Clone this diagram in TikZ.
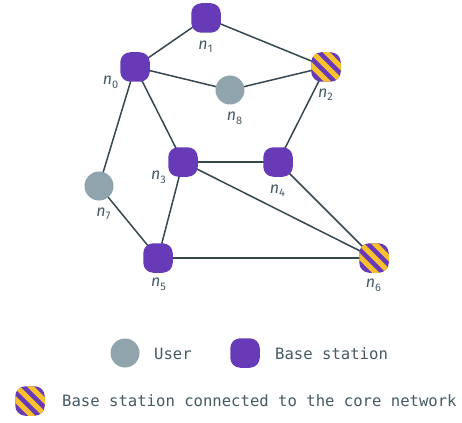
\documentclass[tikz,border=0pt]{standalone}
\usepackage{fontspec}
\usetikzlibrary{backgrounds}
\setmainfont{Fira Sans}
\newfontfamily\legendfont{DejaVu Sans Mono}
\definecolor{bspurple}{HTML}{673AB7}
\definecolor{usergrey}{HTML}{90A4AE}
\definecolor{stripeyellow}{HTML}{FBC02D}
\definecolor{linkcol}{HTML}{37474F}
\definecolor{txtcol}{HTML}{455A64}
\newcommand{\nlab}[1]{{\fontsize{16}{16}\selectfont\itshape n}\raisebox{-0.35em}{\fontsize{11}{11}\selectfont #1}}
\tikzset{
  x=1pt,y=-1pt,
  basest/.style={draw=none,fill=bspurple,rectangle,rounded corners=10pt,minimum size=29.5pt,inner sep=0pt,outer sep=0pt},
  userst/.style={draw=none,fill=usergrey,circle,minimum size=29pt,inner sep=0pt,outer sep=0pt},
  corest/.style={basest,path picture={
    \begin{scope}[shift={(path picture bounding box.center)}]
      \foreach \d in {-27,-13,1,15,29}{
        \draw[stripeyellow,line width=5pt] (\d-20,-20) -- (\d+20,20);
      }
    \end{scope}}},
  link/.style={draw=linkcol,line width=1.5pt},
  nlabel/.style={text=txtcol,inner sep=0pt},
  legendtxt/.style={text=txtcol,inner sep=0pt,anchor=west,font=\legendfont\fontsize{15.6}{16}\selectfont},
}
\begin{document}
\begin{tikzpicture}
\useasboundingbox (0,0) rectangle (462,422);
\node[basest] (n0) at (135,67) {};
\node[basest] (n1) at (206,18) {};
\node[corest] (n2) at (326,67) {};
\node[basest] (n3) at (183,162) {};
\node[basest] (n4) at (278,162) {};
\node[basest] (n5) at (158,258) {};
\node[corest] (n6) at (374,258) {};
\node[userst] (n7) at (99,186) {};
\node[userst] (n8) at (230,90) {};
\begin{scope}[on background layer]
\draw[link] (n0.center) -- (n1.center);
\draw[link] (n1.center) -- (n2.center);
\draw[link] (n0.center) -- (n8.center);
\draw[link] (n8.center) -- (n2.center);
\draw[link] (n0.center) -- (n3.center);
\draw[link] (n0.center) -- (n7.center);
\draw[link] (n7.center) -- (n5.center);
\draw[link] (n3.center) -- (n5.center);
\draw[link] (n3.center) -- (n4.center);
\draw[link] (n4.center) -- (n2.center);
\draw[link] (n3.center) -- (n6.center);
\draw[link] (n4.center) -- (n6.center);
\draw[link] (n5.center) -- (n6.center);
\end{scope}
\node[nlabel] (l0) at (110.5,82.5) {\nlab{0}};
\node[nlabel] (l1) at (205.5,46.5) {\nlab{1}};
\node[nlabel] (l2) at (325.5,94.5) {\nlab{2}};
\node[nlabel] (l3) at (158.5,177.5) {\nlab{3}};
\node[nlabel] (l4) at (277.5,190.5) {\nlab{4}};
\node[nlabel] (l5) at (158.5,284.5) {\nlab{5}};
\node[nlabel] (l6) at (373.5,285.5) {\nlab{6}};
\node[nlabel] (l7) at (103.5,213.5) {\nlab{7}};
\node[nlabel] (l8) at (234.5,118.5) {\nlab{8}};
\node[userst] (k1) at (125,353) {};
\node[legendtxt] (t1) at (154,353.5) {User};
\node[basest] (k2) at (245,353) {};
\node[legendtxt] (t2) at (275,353.5) {Base station};
\node[corest] (k3) at (30,401) {};
\node[legendtxt] (t3) at (62,401) {Base station connected to the core network};
\end{tikzpicture}
\end{document}
